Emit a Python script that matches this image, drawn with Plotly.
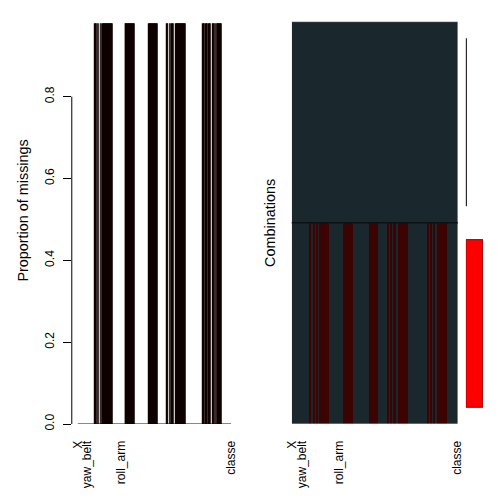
import plotly.graph_objects as go

# ---------------- data ----------------
variables = [
    "X", "user_name", "raw_timestamp_part_1", "raw_timestamp_part_2", "cvtd_timestamp",
    "new_window", "num_window", "roll_belt", "pitch_belt", "yaw_belt", "total_accel_belt",
    "kurtosis_roll_belt", "kurtosis_picth_belt", "kurtosis_yaw_belt", "skewness_roll_belt",
    "skewness_roll_belt.1", "skewness_yaw_belt", "max_roll_belt", "max_picth_belt",
    "max_yaw_belt", "min_roll_belt", "min_pitch_belt", "min_yaw_belt", "amplitude_roll_belt",
    "amplitude_pitch_belt", "amplitude_yaw_belt", "var_total_accel_belt", "avg_roll_belt",
    "stddev_roll_belt", "var_roll_belt", "avg_pitch_belt", "stddev_pitch_belt",
    "var_pitch_belt", "avg_yaw_belt", "stddev_yaw_belt", "var_yaw_belt", "gyros_belt_x",
    "gyros_belt_y", "gyros_belt_z", "accel_belt_x", "accel_belt_y", "accel_belt_z",
    "magnet_belt_x", "magnet_belt_y", "magnet_belt_z", "roll_arm", "pitch_arm", "yaw_arm",
    "total_accel_arm", "var_accel_arm", "avg_roll_arm", "stddev_roll_arm", "var_roll_arm",
    "avg_pitch_arm", "stddev_pitch_arm", "var_pitch_arm", "avg_yaw_arm", "stddev_yaw_arm",
    "var_yaw_arm", "gyros_arm_x", "gyros_arm_y", "gyros_arm_z", "accel_arm_x", "accel_arm_y",
    "accel_arm_z", "magnet_arm_x", "magnet_arm_y", "magnet_arm_z", "kurtosis_roll_arm",
    "kurtosis_picth_arm", "kurtosis_yaw_arm", "skewness_roll_arm", "skewness_pitch_arm",
    "skewness_yaw_arm", "max_roll_arm", "max_picth_arm", "max_yaw_arm", "min_roll_arm",
    "min_pitch_arm", "min_yaw_arm", "amplitude_roll_arm", "amplitude_pitch_arm",
    "amplitude_yaw_arm", "roll_dumbbell", "pitch_dumbbell", "yaw_dumbbell",
    "kurtosis_roll_dumbbell", "kurtosis_picth_dumbbell", "kurtosis_yaw_dumbbell",
    "skewness_roll_dumbbell", "skewness_pitch_dumbbell", "skewness_yaw_dumbbell",
    "max_roll_dumbbell", "max_picth_dumbbell", "max_yaw_dumbbell", "min_roll_dumbbell",
    "min_pitch_dumbbell", "min_yaw_dumbbell", "amplitude_roll_dumbbell",
    "amplitude_pitch_dumbbell", "amplitude_yaw_dumbbell", "total_accel_dumbbell",
    "var_accel_dumbbell", "avg_roll_dumbbell", "stddev_roll_dumbbell", "var_roll_dumbbell",
    "avg_pitch_dumbbell", "stddev_pitch_dumbbell", "var_pitch_dumbbell", "avg_yaw_dumbbell",
    "stddev_yaw_dumbbell", "var_yaw_dumbbell", "gyros_dumbbell_x", "gyros_dumbbell_y",
    "gyros_dumbbell_z", "accel_dumbbell_x", "accel_dumbbell_y", "accel_dumbbell_z",
    "magnet_dumbbell_x", "magnet_dumbbell_y", "magnet_dumbbell_z", "roll_forearm",
    "pitch_forearm", "yaw_forearm", "kurtosis_roll_forearm", "kurtosis_picth_forearm",
    "kurtosis_yaw_forearm", "skewness_roll_forearm", "skewness_pitch_forearm",
    "skewness_yaw_forearm", "max_roll_forearm", "max_picth_forearm", "max_yaw_forearm",
    "min_roll_forearm", "min_pitch_forearm", "min_yaw_forearm", "amplitude_roll_forearm",
    "amplitude_pitch_forearm", "amplitude_yaw_forearm", "total_accel_forearm",
    "var_accel_forearm", "avg_roll_forearm", "stddev_roll_forearm", "var_roll_forearm",
    "avg_pitch_forearm", "stddev_pitch_forearm", "var_pitch_forearm", "avg_yaw_forearm",
    "stddev_yaw_forearm", "var_yaw_forearm", "gyros_forearm_x", "gyros_forearm_y",
    "gyros_forearm_z", "accel_forearm_x", "accel_forearm_y", "accel_forearm_z",
    "magnet_forearm_x", "magnet_forearm_y", "magnet_forearm_z", "classe",
]

# variables that are missing in the mostly-NA combination
missing_vars = [
    "max_roll_belt", "max_picth_belt", "min_roll_belt", "min_pitch_belt",
    "amplitude_roll_belt", "amplitude_pitch_belt", "var_total_accel_belt", "avg_roll_belt",
    "stddev_roll_belt", "var_roll_belt", "avg_pitch_belt", "stddev_pitch_belt",
    "var_pitch_belt", "avg_yaw_belt", "stddev_yaw_belt", "var_yaw_belt",
    "var_accel_arm", "avg_roll_arm", "stddev_roll_arm", "var_roll_arm", "avg_pitch_arm",
    "stddev_pitch_arm", "var_pitch_arm", "avg_yaw_arm", "stddev_yaw_arm", "var_yaw_arm",
    "max_roll_arm", "max_picth_arm", "max_yaw_arm", "min_roll_arm", "min_pitch_arm",
    "min_yaw_arm", "amplitude_roll_arm", "amplitude_pitch_arm", "amplitude_yaw_arm",
    "max_roll_dumbbell", "max_picth_dumbbell", "min_roll_dumbbell", "min_pitch_dumbbell",
    "amplitude_roll_dumbbell", "amplitude_pitch_dumbbell", "var_accel_dumbbell",
    "avg_roll_dumbbell", "stddev_roll_dumbbell", "var_roll_dumbbell", "avg_pitch_dumbbell",
    "stddev_pitch_dumbbell", "var_pitch_dumbbell", "avg_yaw_dumbbell",
    "stddev_yaw_dumbbell", "var_yaw_dumbbell",
    "max_roll_forearm", "max_picth_forearm", "min_roll_forearm", "min_pitch_forearm",
    "amplitude_roll_forearm", "amplitude_pitch_forearm", "var_accel_forearm",
    "avg_roll_forearm", "stddev_roll_forearm", "var_roll_forearm", "avg_pitch_forearm",
    "stddev_pitch_forearm", "var_pitch_forearm", "avg_yaw_forearm",
    "stddev_yaw_forearm", "var_yaw_forearm",
]

prop_missing_of_na_vars = 0.9793          # proportion of missings in each NA variable
combo_names = ["missing pattern", "complete"]
combo_freq = [0.9793, 0.0207]            # proportion of each combination
shown_labels = ["X", "yaw_belt", "roll_arm", "classe"]
y_ticks = [0.0, 0.2, 0.4, 0.6, 0.8]

# ---------------- derived tables ----------------
idx = list(range(1, len(variables) + 1))
miss_flag = [1 if v in missing_vars else 0 for v in variables]
prop = [prop_missing_of_na_vars if f else 0.0 for f in miss_flag]
combo_z = [miss_flag, [0] * len(variables)]
label_pos = [variables.index(l) + 1 for l in shown_labels]

W = H = 504
def px_x(p): return p / W
def px_y(p): return (H - p) / H

FONT = "Liberation Sans, Arial, Helvetica, sans-serif"
BW = 0.833

fig = go.Figure()

fig.add_trace(go.Bar(
    x=idx, y=prop, width=BW, xaxis="x", yaxis="y",
    marker=dict(color="#100101", line=dict(width=0)), showlegend=False,
))

fig.add_trace(go.Heatmap(
    z=combo_z, x=idx, y=[0, 1], xaxis="x2", yaxis="y2",
    zmin=0, zmax=1, showscale=False,
    colorscale=[[0, "#1a272d"], [0.5, "#1a272d"], [0.5, "#3c0303"], [1, "#3c0303"]],
))

fig.add_trace(go.Bar(
    x=combo_freq, y=[0, 1], orientation="h", width=BW, xaxis="x3", yaxis="y3",
    marker=dict(color=["#ff0000", "#ff0000"],
                line=dict(color=["#800000", "#000000"], width=1)),
    showlegend=False,
))

# left panel geometry
px_per_idx = 0.984
first_center = 73.1
left_x0, left_x1 = 66.5, 231.0
xr_left = [1 - (first_center - left_x0) / px_per_idx, 1 + (left_x1 - first_center) / px_per_idx]

tickfont = dict(family=FONT, size=12, color="black")
labfont = dict(family=FONT, size=14.4, color="black")

fig.update_layout(
    width=W, height=H, margin=dict(l=0, r=0, t=0, b=0),
    paper_bgcolor="white", plot_bgcolor="white",
    font=dict(family=FONT, size=12, color="black"),
    xaxis=dict(domain=[px_x(left_x0), px_x(left_x1)], range=xr_left, anchor="y",
               tickmode="array", tickvals=label_pos, ticktext=shown_labels,
               tickangle=-90, ticks="outside", ticklen=11, tickcolor="rgba(0,0,0,0)",
               showgrid=False, zeroline=False, showline=False, tickfont=tickfont),
    yaxis=dict(domain=[px_y(430), px_y(15)], range=[0, 1], anchor="x",
               tickmode="array", tickvals=y_ticks, ticktext=[f"{v:.1f}" for v in y_ticks],
               tickangle=-90, ticks="outside", ticklen=8, tickcolor="black",
               ticklabelstandoff=4,
               showgrid=False, zeroline=False, showline=False, tickfont=tickfont),
    xaxis2=dict(domain=[px_x(292.3), px_x(462.7)], range=[0.5, len(variables) + 0.5],
                anchor="y2", tickmode="array", tickvals=label_pos, ticktext=shown_labels,
                tickangle=-90, ticks="outside", ticklen=11, tickcolor="rgba(0,0,0,0)",
                showgrid=False, zeroline=False, showline=False, tickfont=tickfont),
    yaxis2=dict(domain=[px_y(430), px_y(22)], range=[-0.5, 1.5], anchor="x2",
                showticklabels=False, ticks="", showgrid=False, zeroline=False),
    xaxis3=dict(domain=[px_x(471), px_x(488.8)], range=[0, 1], anchor="y3",
                visible=False, showgrid=False, zeroline=False),
    yaxis3=dict(domain=[px_y(430), px_y(22)], range=[-0.5, 1.5], anchor="x3",
                visible=False, showgrid=False, zeroline=False),
    shapes=[
        dict(type="line", xref="paper", yref="y", x0=px_x(left_x0), x1=px_x(left_x0),
             y0=0, y1=y_ticks[-1], line=dict(color="black", width=1)),
        dict(type="line", xref="x", yref="y", x0=1 - BW / 2, x1=len(variables) + BW / 2,
             y0=0, y1=0, line=dict(color="black", width=1)),
        dict(type="line", xref="x2 domain", yref="y2", x0=0, x1=1, y0=0.5, y1=0.5,
             line=dict(color="#0a1216", width=1.5)),
        dict(type="line", xref="x2 domain", yref="y2", x0=0, x1=1, y0=1.5, y1=1.5,
             line=dict(color="#6a7074", width=1)),
    ],
    annotations=[
        dict(text="Proportion of missings", xref="paper", yref="paper",
             x=px_x(16), y=px_y(214), textangle=-90, showarrow=False,
             xanchor="center", yanchor="middle", font=labfont),
        dict(text="Combinations", xref="paper", yref="paper",
             x=px_x(270), y=px_y(226), textangle=-90, showarrow=False,
             xanchor="center", yanchor="middle", font=labfont),
    ],
)

fig.write_html("out.html")
